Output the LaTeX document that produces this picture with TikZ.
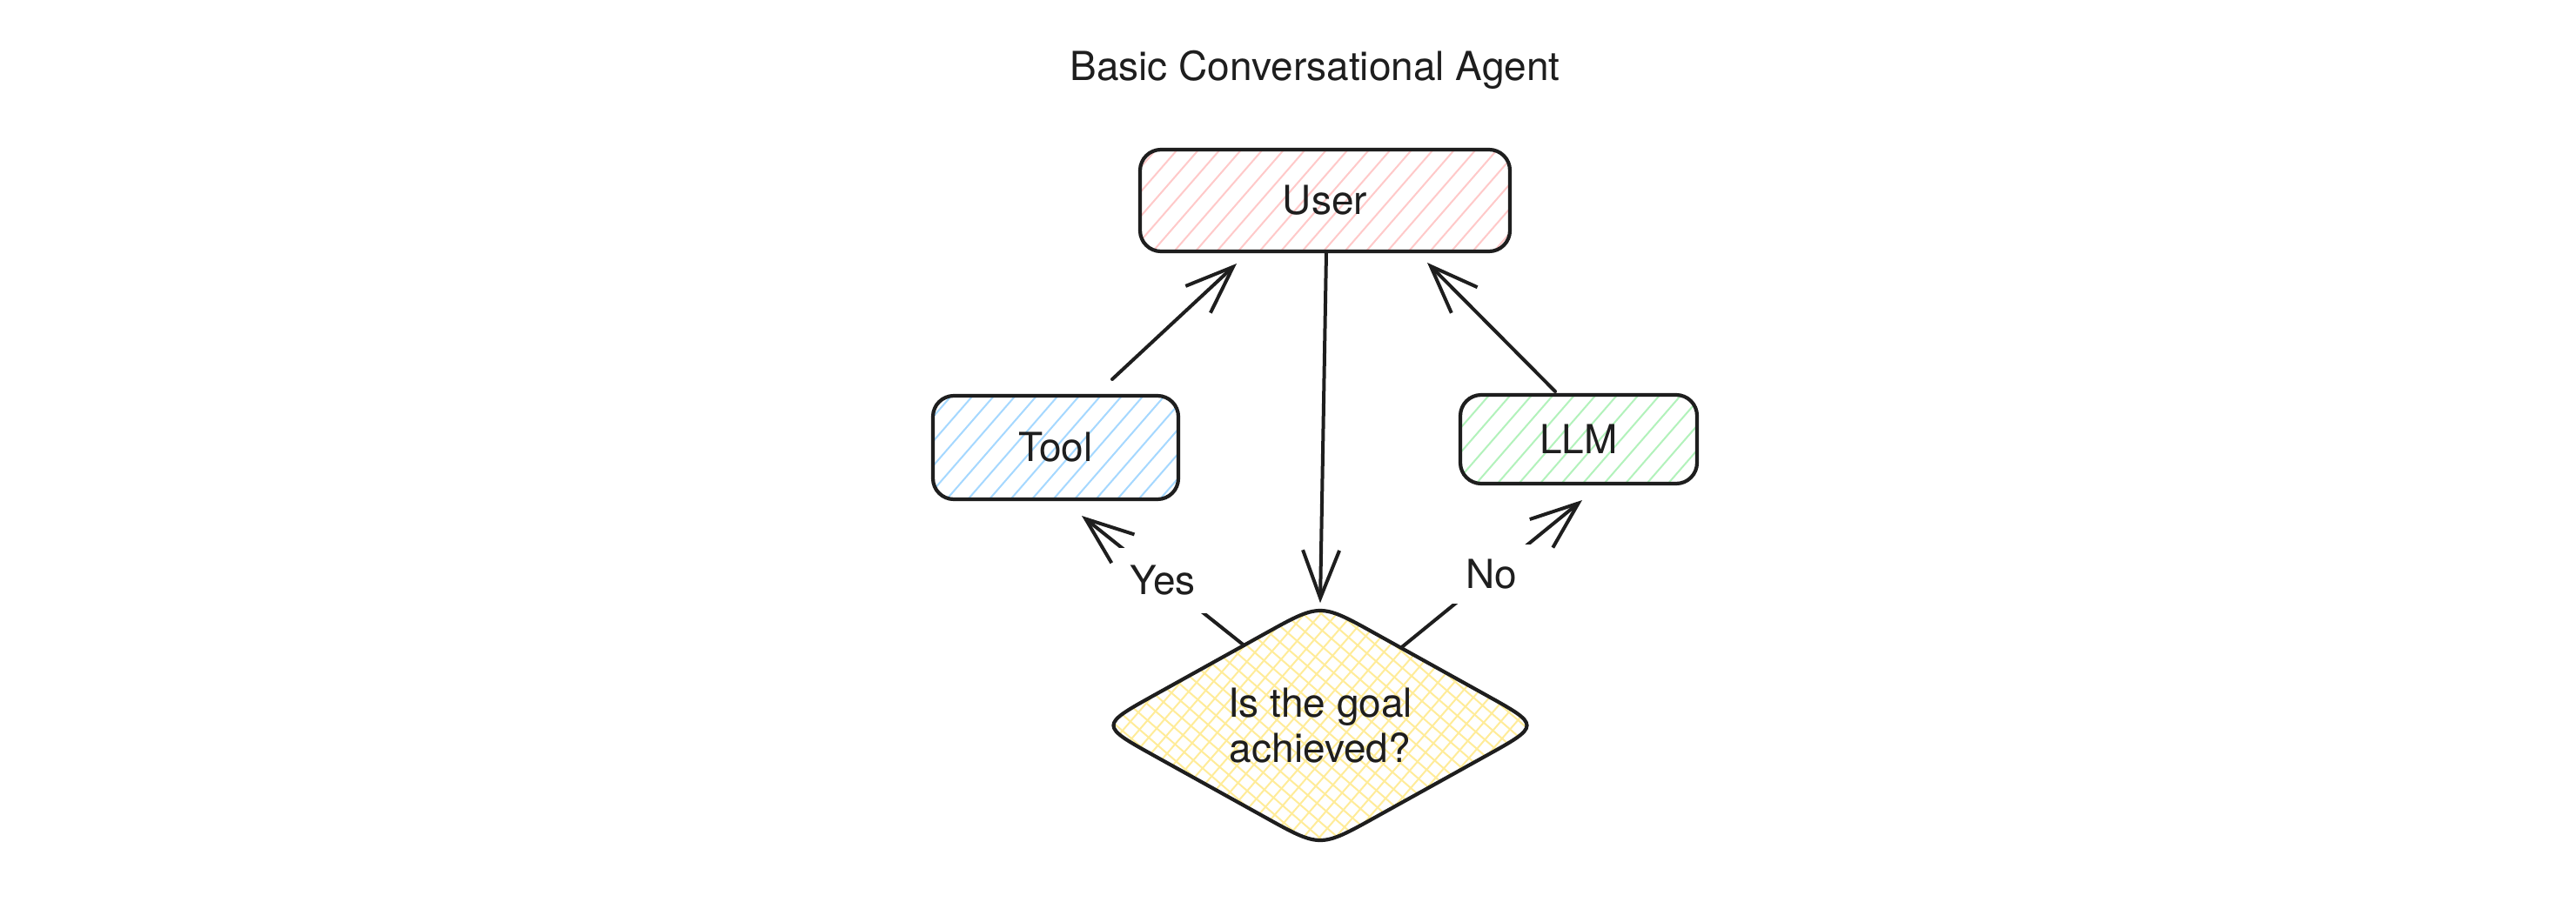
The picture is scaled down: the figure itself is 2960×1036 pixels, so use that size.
\documentclass[tikz,border=0pt]{standalone}
\usepackage{fontspec}
\setmainfont{TeX Gyre Heros}
\usetikzlibrary{calc,arrows.meta,shapes.geometric,backgrounds}
\definecolor{ink}{HTML}{1E1E1E}
\definecolor{pinkc}{HTML}{FFC9C9}
\definecolor{bluec}{HTML}{A5D8FF}
\definecolor{greenc}{HTML}{B2F2BB}
\definecolor{yellowc}{HTML}{FFEC99}
\tikzset{
  lbl/.style={font=\fontsize{46}{52}\selectfont, text=ink},
  box/.style={lbl, draw=ink, line width=4.2pt, rounded corners=24pt, inner sep=0pt, outer sep=0pt},
  hatchbox/.style={path picture={
     \foreach \k in {-30,...,30}{
       \draw[#1, line width=2pt] ($(path picture bounding box.center)+(\k*24.5,0)+(-49:-400)$) -- ++(-49:800);
     }}},
  arr/.style={draw=ink, line width=4pt, line cap=round, -{Straight Barb[length=55pt,width=42pt]}},
  edgelbl/.style={lbl, fill=white, inner sep=#1},
  hatchline/.style={yellowc, line width=2pt},
}
\begin{document}
\begin{tikzpicture}[x=1pt,y=-1pt]
\useasboundingbox (0,0) rectangle (2960,1036);

\node[lbl, anchor=base] (title) at (1511,92) {Basic Conversational Agent};

\node[box, hatchbox=pinkc, minimum width=425pt, minimum height=117pt] (user) at (1522.5,230.5) {User};
\node[box, hatchbox=bluec, minimum width=282pt, minimum height=119pt] (tool) at (1213,514.5) {Tool};
\node[box, hatchbox=greenc, minimum width=272pt, minimum height=102pt] (llm) at (1814,505) {LLM};

\node[lbl, shape=diamond, aspect=1.8, minimum width=506.7pt, minimum height=281.6pt, inner sep=0pt, outer sep=0pt, align=center] (dia) at (1517,834) {Is the goal\\achieved?};

\begin{scope}[on background layer]
  \fill[white] (0,0) rectangle (2960,1036);
  \begin{scope}
    \clip ($(dia.north)!0.25!(dia.east)$) -- ($(dia.north)!0.75!(dia.east)$)
      .. controls (dia.east) and (dia.east) .. ($(dia.east)!0.25!(dia.south)$)
      -- ($(dia.east)!0.75!(dia.south)$)
      .. controls (dia.south) and (dia.south) .. ($(dia.south)!0.25!(dia.west)$)
      -- ($(dia.south)!0.75!(dia.west)$)
      .. controls (dia.west) and (dia.west) .. ($(dia.west)!0.25!(dia.north)$)
      -- ($(dia.west)!0.75!(dia.north)$)
      .. controls (dia.north) and (dia.north) .. ($(dia.north)!0.25!(dia.east)$) -- cycle;
    \foreach \k in {-30,...,30}{
      \draw[hatchline] ($(dia.center)+(\k*18.5,0)+(-49:-400)$) -- ++(-49:800);
      \draw[hatchline] ($(dia.center)+(\k*21.3,0)+(41:-400)$) -- ++(41:800);
    }
  \end{scope}
\end{scope}

\draw[ink, line width=4.2pt, line join=round]
  ($(dia.north)!0.25!(dia.east)$) -- ($(dia.north)!0.75!(dia.east)$)
  .. controls (dia.east) and (dia.east) .. ($(dia.east)!0.25!(dia.south)$)
  -- ($(dia.east)!0.75!(dia.south)$)
  .. controls (dia.south) and (dia.south) .. ($(dia.south)!0.25!(dia.west)$)
  -- ($(dia.south)!0.75!(dia.west)$)
  .. controls (dia.west) and (dia.west) .. ($(dia.west)!0.25!(dia.north)$)
  -- ($(dia.west)!0.75!(dia.north)$)
  .. controls (dia.north) and (dia.north) .. ($(dia.north)!0.25!(dia.east)$) -- cycle;

\draw[arr] ($(tool.north)+(65,-19)$) -- ($(user.south)+(-101.5,14)$);
\draw[arr] ($(llm.north)+(-27,-4)$) -- ($(user.south)+(117.5,13)$);
\draw[arr] ($(user.south)+(1.5,1)$) -- (dia.north);
\draw[arr] ($(dia.north)!0.3458!(dia.west)$) -- node[edgelbl=20pt] (yes) {Yes} ($(tool.south)+(30,19)$);
\draw[arr] ($(dia.north)!0.3663!(dia.east)$) -- node[edgelbl=17pt] (no) {No} ($(llm.south)+(4,19)$);
\end{tikzpicture}
\end{document}
